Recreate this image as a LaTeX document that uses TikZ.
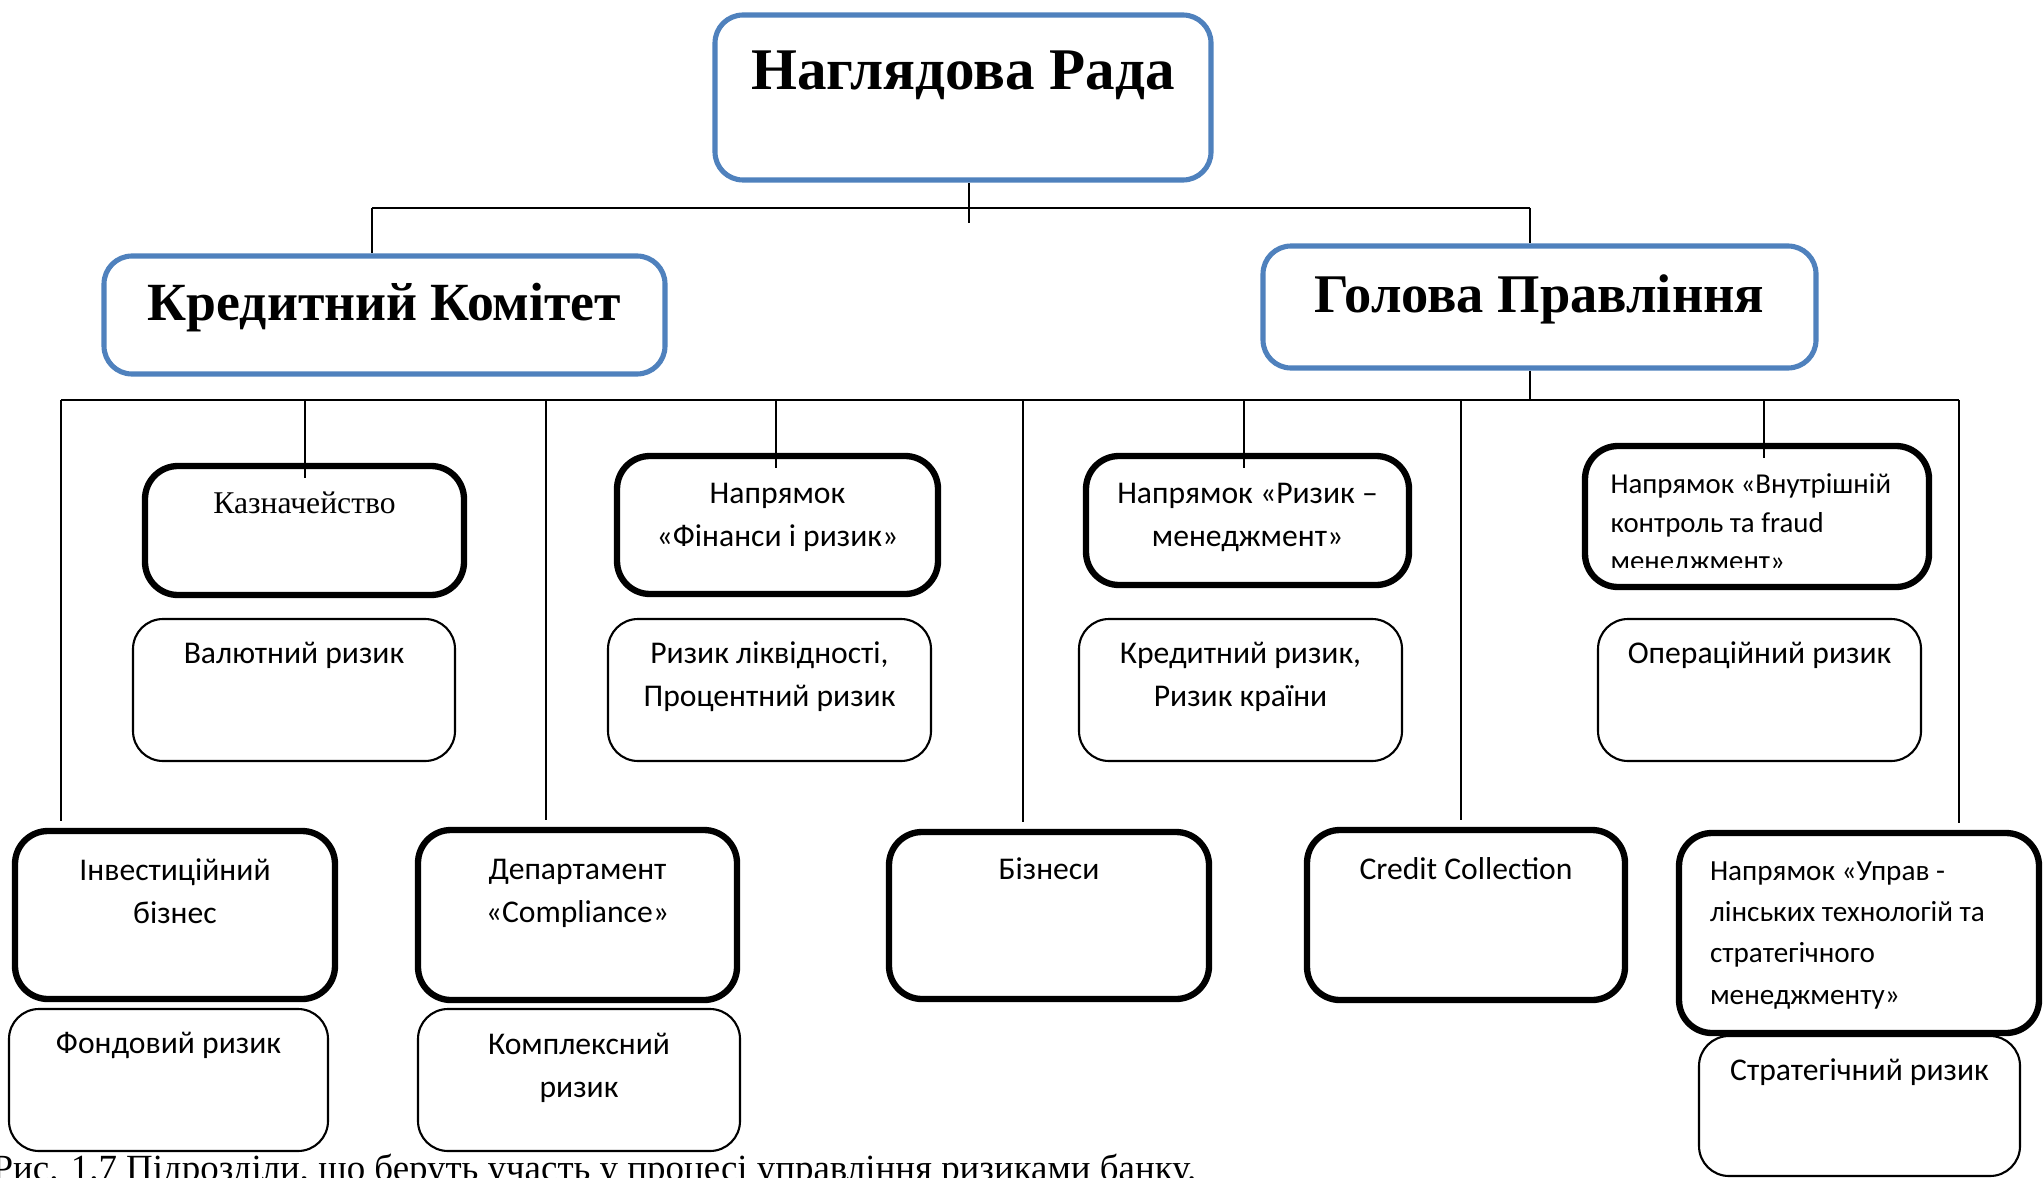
\documentclass[tikz,border=0pt]{standalone}
\usepackage{fontspec}
\setmainfont{Liberation Serif}
\newfontfamily\calibri{Carlito}
\usetikzlibrary{calc}
\definecolor{boardblue}{RGB}{79,129,189}
% text box: width, height, first baseline, text
\newcommand{\boxtxt}[4]{\parbox[c][#2][t]{#1}{\centering\rule{0pt}{#3}#4}}
\newcommand{\lboxtxt}[5]{\parbox[c][#2][t]{#1}{\raggedright\leftskip=#4\rule{0pt}{#3}#5}}

\begin{document}
\begin{tikzpicture}[x=1cm,y=-1cm,
  board node/.style={draw=boardblue,line width=1.45pt,rounded corners=0.28cm,
  inner sep=0pt,font=\fontsize{16.3}{19}\selectfont\bfseries},
  unit node/.style={draw,line width=1.8pt,rounded corners=0.33cm,
  inner sep=0pt,font=\calibri\fontsize{9}{12.5}\selectfont},
  risk node/.style={draw,line width=0.6pt,rounded corners=0.3cm,
  inner sep=0pt,font=\calibri\fontsize{9}{12.5}\selectfont},
  link/.style={line width=0.5pt}]

  \useasboundingbox (0,0) rectangle (20.44,11.78);

  \node[board node,font=\fontsize{16.8}{19}\selectfont\bfseries] (NR) at (9.63,0.975) {\boxtxt{4.96cm}{1.65cm}{0.75cm}{Наглядова Рада}};
  \node[board node,font=\fontsize{15.3}{19}\selectfont\bfseries] (KK) at (3.845,3.15) {\boxtxt{5.61cm}{1.18cm}{0.64cm}{Кредитний Комітет}};
  \node[board node,font=\fontsize{15.5}{19}\selectfont\bfseries] (GP) at (15.395,3.07) {\boxtxt{5.53cm}{1.22cm}{0.66cm}{Голова Правління}};

  \node[unit node,font=\fontsize{9}{12.5}\selectfont] (KZ) at (3.045,5.305) {\boxtxt{3.19cm}{1.29cm}{0.47cm}{Казначейство}};
  \node[unit node] (FR) at (7.775,5.25) {\boxtxt{3.21cm}{1.38cm}{0.47cm}{Напрямок\\«Фінанси і ризик»}};
  \node[unit node] (RM) at (12.475,5.205) {\boxtxt{3.23cm}{1.29cm}{0.47cm}{Напрямок «Ризик –\\менеджмент»}};
  \node[unit node] (VK) at (17.57,5.165) {\boxtxt{3.44cm}{1.41cm}{0.46cm}{}};
  \begin{scope}
    \clip (VK.north west) rectangle ($(VK.south east)+(0,-0.23)$);
    \node[anchor=north west,inner sep=0pt,font=\calibri\fontsize{8.2}{11.0}\selectfont] (VKT) at (VK.north west)
      {\lboxtxt{3.44cm}{1.41cm}{0.50cm}{0.28cm}{Напрямок «Внутрішній\\контроль та fraud\\менеджмент»}};
  \end{scope}

  \node[risk node] (VR) at (2.94,6.90) {\boxtxt{3.22cm}{1.42cm}{0.44cm}{Валютний ризик}};
  \node[risk node] (RL) at (7.695,6.90) {\boxtxt{3.23cm}{1.42cm}{0.44cm}{Ризик ліквідності,\\Процентний ризик}};
  \node[risk node] (KR) at (12.405,6.90) {\boxtxt{3.23cm}{1.42cm}{0.44cm}{Кредитний ризик,\\Ризик країни}};
  \node[risk node] (OR) at (17.595,6.90) {\boxtxt{3.23cm}{1.42cm}{0.44cm}{Операційний ризик}};

  \node[unit node] (IB) at (1.75,9.15) {\boxtxt{3.20cm}{1.68cm}{0.49cm}{Інвестиційний\\бізнес}};
  \node[unit node] (DC) at (5.775,9.15) {\boxtxt{3.19cm}{1.70cm}{0.49cm}{Департамент\\«Compliance»}};
  \node[unit node] (BZ) at (10.49,9.155) {\boxtxt{3.20cm}{1.67cm}{0.47cm}{Бізнеси}};
  \node[unit node] (CC) at (14.66,9.15) {\boxtxt{3.18cm}{1.70cm}{0.49cm}{Credit Collection}};
  \node[unit node,font=\calibri\fontsize{8.3}{11.8}\selectfont] (UT) at (18.59,9.33)
    {\lboxtxt{3.60cm}{2.00cm}{0.47cm}{0.31cm}{Напрямок «Управ -\\лінських технологій та\\стратегічного\\менеджменту»}};

  \node[risk node] (FZ) at (1.685,10.80) {\boxtxt{3.19cm}{1.42cm}{0.44cm}{Фондовий ризик}};
  \node[risk node] (KP) at (5.79,10.80) {\boxtxt{3.22cm}{1.42cm}{0.45cm}{Комплексний\\ризик}};
  \node[risk node] (SR) at (18.595,11.06) {\boxtxt{3.21cm}{1.40cm}{0.44cm}{Стратегічний ризик}};

  \node[anchor=base west,inner sep=0pt,font=\fontsize{10.5}{13}\selectfont] (CAP) at (-0.08,11.80)
    {Рис. 1.7 Підрозділи, що беруть участь у процесі управління ризиками банку.};

  % upper level
  \coordinate (uNR) at (9.69,2.23);
  \coordinate (uKK) at (3.72,2.08);
  \coordinate (uGP) at (15.30,2.08);
  \draw[link] (uNR) -- (uNR |- NR.south);
  \draw[link] (uKK) -- (uGP);
  \draw[link] (uKK) -- (uKK |- KK.north);
  \draw[link] (uGP) -- (uGP |- GP.north);

  % lower level
  \foreach \x/\n in {3.05/KZ,7.76/FR,12.44/RM,17.64/VK} {
    \coordinate (d\n) at (\x,4.00);
    \draw[link,shorten >=-0.15cm] (d\n) -- (d\n |- \n.north);
  }
  \foreach \x/\n in {0.61/IB,5.46/DC,10.23/BZ,14.61/CC,19.59/UT} {
    \coordinate (d\n) at (\x,4.00);
    \draw[link,shorten >=0.07cm] (d\n) -- (d\n |- \n.north);
  }
  \draw[link] (dIB) -- (dUT);
  \draw[link] (uGP |- GP.south) -- (uGP |- dIB);
\end{tikzpicture}
\end{document}
